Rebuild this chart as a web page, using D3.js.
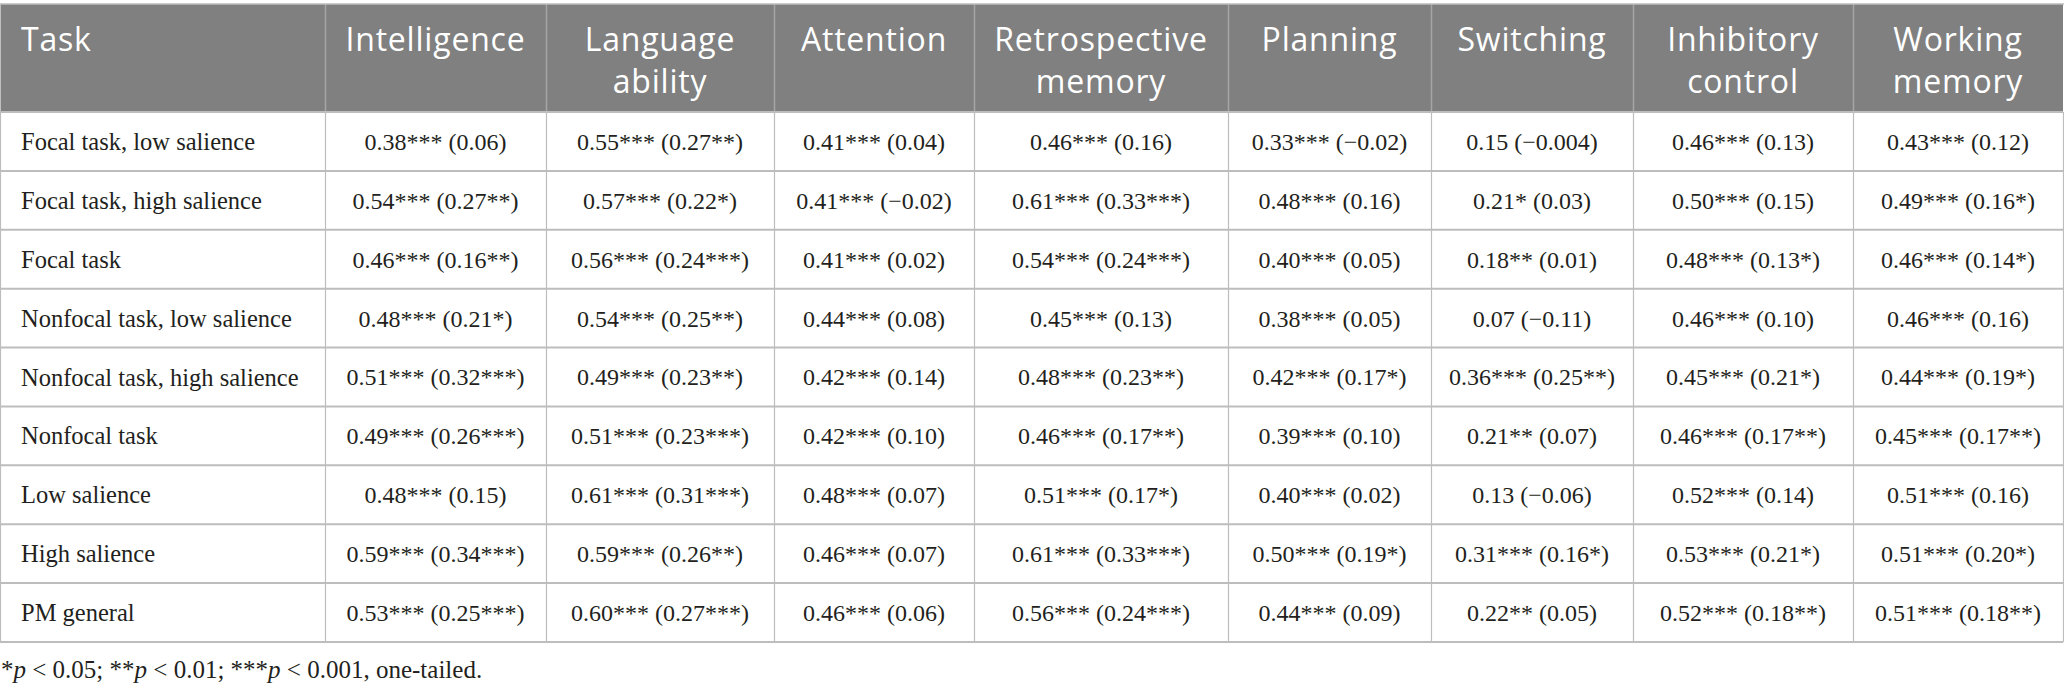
<!DOCTYPE html>
<html>
<head>
<meta charset="utf-8">
<script src="https://cdn.jsdelivr.net/npm/d3@7"></script>
<style>
  html, body { margin: 0; padding: 0; background: #fff; }
  svg { display: block; }
</style>
</head>
<body>
<svg id="chart"></svg>
<script>
// ---- data ----
const headers = [["Task"], ["Intelligence"], ["Language", "ability"], ["Attention"], ["Retrospective", "memory"], ["Planning"], ["Switching"], ["Inhibitory", "control"], ["Working", "memory"]];
const tasks = ["Focal task, low salience", "Focal task, high salience", "Focal task", "Nonfocal task, low salience", "Nonfocal task, high salience", "Nonfocal task", "Low salience", "High salience", "PM general"];
const rowFocalLow   = ["0.38*** (0.06)", "0.55*** (0.27**)", "0.41*** (0.04)", "0.46*** (0.16)", "0.33*** (−0.02)", "0.15 (−0.004)", "0.46*** (0.13)", "0.43*** (0.12)"];
const rowFocalHigh  = ["0.54*** (0.27**)", "0.57*** (0.22*)", "0.41*** (−0.02)", "0.61*** (0.33***)", "0.48*** (0.16)", "0.21* (0.03)", "0.50*** (0.15)", "0.49*** (0.16*)"];
const rowFocal      = ["0.46*** (0.16**)", "0.56*** (0.24***)", "0.41*** (0.02)", "0.54*** (0.24***)", "0.40*** (0.05)", "0.18** (0.01)", "0.48*** (0.13*)", "0.46*** (0.14*)"];
const rowNonfocalLow  = ["0.48*** (0.21*)", "0.54*** (0.25**)", "0.44*** (0.08)", "0.45*** (0.13)", "0.38*** (0.05)", "0.07 (−0.11)", "0.46*** (0.10)", "0.46*** (0.16)"];
const rowNonfocalHigh = ["0.51*** (0.32***)", "0.49*** (0.23**)", "0.42*** (0.14)", "0.48*** (0.23**)", "0.42*** (0.17*)", "0.36*** (0.25**)", "0.45*** (0.21*)", "0.44*** (0.19*)"];
const rowNonfocal   = ["0.49*** (0.26***)", "0.51*** (0.23***)", "0.42*** (0.10)", "0.46*** (0.17**)", "0.39*** (0.10)", "0.21** (0.07)", "0.46*** (0.17**)", "0.45*** (0.17**)"];
const rowLow        = ["0.48*** (0.15)", "0.61*** (0.31***)", "0.48*** (0.07)", "0.51*** (0.17*)", "0.40*** (0.02)", "0.13 (−0.06)", "0.52*** (0.14)", "0.51*** (0.16)"];
const rowHigh       = ["0.59*** (0.34***)", "0.59*** (0.26**)", "0.46*** (0.07)", "0.61*** (0.33***)", "0.50*** (0.19*)", "0.31*** (0.16*)", "0.53*** (0.21*)", "0.51*** (0.20*)"];
const rowGeneral    = ["0.53*** (0.25***)", "0.60*** (0.27***)", "0.46*** (0.06)", "0.56*** (0.24***)", "0.44*** (0.09)", "0.22** (0.05)", "0.52*** (0.18**)", "0.51*** (0.18**)"];
const footnoteParts = [["*", false], ["p", true], [" < 0.05; **", false], ["p", true], [" < 0.01; ***", false], ["p", true], [" < 0.001, one-tailed.", false]];

const bodyRows = [rowFocalLow, rowFocalHigh, rowFocal, rowNonfocalLow, rowNonfocalHigh, rowNonfocal, rowLow, rowHigh, rowGeneral];

// ---- layout ----
const W = 2064, H = 696;
const colEdges = [0, 325, 546, 774, 974, 1228, 1431, 1633, 1853, 2063];
const headTop = 4, headBottom = 112, tableBottom = 642;
const lineColor = "#bdbdbd";

const svg = d3.select("#chart").attr("width", W).attr("height", H);

const colIdx = d3.range(headers.length);
const xLeft = d3.scaleOrdinal().domain(colIdx).range(colEdges.slice(0, -1));
const xRight = d3.scaleOrdinal().domain(colIdx).range(colEdges.slice(1));
const xMid = i => (xLeft(i) + xRight(i)) / 2;
const y = d3.scaleBand().domain(d3.range(tasks.length)).range([headBottom, tableBottom]);

// header background
svg.append("rect").attr("x", 0.5).attr("y", headTop).attr("width", W - 1.5).attr("height", headBottom - headTop)
  .attr("fill", "#808080");
// header vertical separators
svg.selectAll("line.hsep").data(colIdx.slice(1)).join("line")
  .attr("x1", d => xLeft(d) + 0.5).attr("x2", d => xLeft(d) + 0.5)
  .attr("y1", headTop).attr("y2", headBottom)
  .attr("stroke", "#a6a6a6").attr("stroke-width", 1.5);

// header text
const hg = svg.selectAll("text.head").data(headers).join("text")
  .attr("class", "head")
  .attr("font-family", "'Open Sans', sans-serif")
  .attr("font-size", 32)
  .attr("letter-spacing", 0.8)
  .attr("fill", "#ffffff")
  .attr("text-anchor", (d, i) => i === 0 ? "start" : "middle")
  .attr("x", (d, i) => i === 0 ? 21 : xMid(i));
hg.selectAll("tspan").data((d, i) => d.map(t => ({ t, i }))).join("tspan")
  .attr("x", d => d.i === 0 ? 21 : xMid(d.i))
  .attr("y", (d, k) => 51 + k * 42)
  .text(d => d.t);

// body grid: horizontal lines
svg.selectAll("line.rsep").data(d3.range(tasks.length + 1)).join("line")
  .attr("x1", 0).attr("x2", W - 1)
  .attr("y1", d => (d < tasks.length ? y(d) : tableBottom)).attr("y2", d => (d < tasks.length ? y(d) : tableBottom))
  .attr("stroke", lineColor).attr("stroke-width", 2);
// body grid: vertical lines
svg.selectAll("line.csep").data(colEdges).join("line")
  .attr("x1", d => d + 0.5).attr("x2", d => d + 0.5)
  .attr("y1", headBottom).attr("y2", tableBottom)
  .attr("stroke", lineColor).attr("stroke-width", 1.2);
// top border
svg.append("line").attr("x1", 0).attr("x2", W).attr("y1", headTop).attr("y2", headTop)
  .attr("stroke", lineColor).attr("stroke-width", 1.5);

// body text
const rowsG = svg.selectAll("g.row").data(bodyRows).join("g").attr("class", "row")
  .attr("transform", (d, r) => `translate(0,${y(r) + y.bandwidth() / 2})`);
rowsG.append("text")
  .attr("x", 21).attr("dy", "0.35em")
  .attr("font-family", "'Liberation Serif', serif").attr("font-size", 24.5).attr("fill", "#231f20")
  .text((d, r) => tasks[r]);
rowsG.selectAll("text.cell").data(d => d).join("text").attr("class", "cell")
  .attr("x", (d, i) => xMid(i + 1)).attr("dy", "0.35em")
  .attr("text-anchor", "middle")
  .attr("font-family", "'Liberation Serif', serif").attr("font-size", 24).attr("fill", "#231f20")
  .text(d => d);

// footnote
const fn = svg.append("text").attr("x", 1).attr("y", 678)
  .attr("font-family", "'Liberation Serif', serif").attr("font-size", 25).attr("fill", "#231f20");
fn.selectAll("tspan").data(footnoteParts).join("tspan")
  .attr("font-style", d => d[1] ? "italic" : "normal")
  .text(d => d[0]);
</script>
</body>
</html>
